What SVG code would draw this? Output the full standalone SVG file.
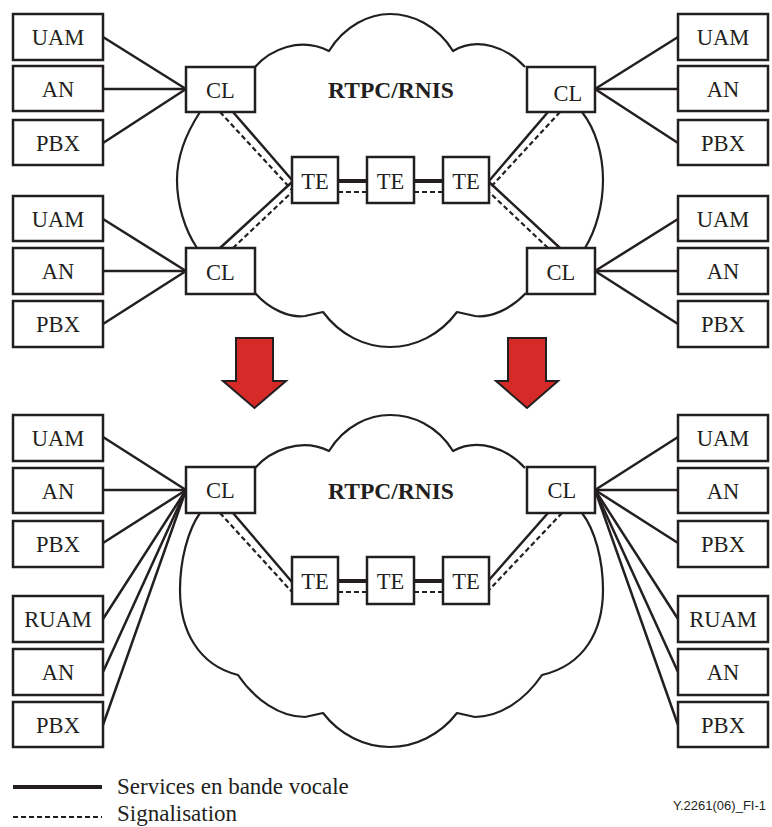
<svg xmlns="http://www.w3.org/2000/svg" width="772" height="827" viewBox="0 0 772 827">
<style>
.box{fill:#fff;stroke:#231f20;stroke-width:2.5}
.cloud{fill:none;stroke:#231f20;stroke-width:2.2;stroke-linejoin:round}
.ln{stroke:#231f20;stroke-width:2.5;fill:none}
.th{stroke:#231f20;stroke-width:4;fill:none}
.ds{stroke:#231f20;stroke-width:2.2;stroke-dasharray:5 3;fill:none}
.t{font-size:22.5px;fill:#231f20;text-anchor:middle}
.b{font-size:23.5px;font-weight:bold;fill:#231f20;text-anchor:middle}
.lg{font-size:23px;fill:#231f20}
.arrow{fill:#d52a27;stroke:#231f20;stroke-width:2}
</style>
<rect width="772" height="827" fill="#fff"/>

<g id="clouds">
<path class="cloud" d="M255,67 C270,50 300,36 329,51 C345,25 370,14 390,14 C412,14 437,25 453,51 C478,36 508,48 525,67"/>
<path class="cloud" d="M582,112 C596,130 603,155 603,180 C603,205 596,230 585,248"/>
<path class="cloud" d="M526,293 C510,310 490,318 475,316 L457,312 C440,335 415,347 390,347 C365,347 340,335 323,312 L305,316 C290,318 270,310 255,293"/>
<path class="cloud" d="M200,112 C185,135 177,158 177,180 C177,205 185,230 197,248"/>

<path class="cloud" d="M255,468 C270,451 300,437 329,451 C345,425 370,415 390,415 C412,415 437,425 453,451 C478,437 508,449 525,468"/>
<path class="cloud" d="M582,513 C595,530 603,560 603,590 C603,630 585,665 542,675 C525,700 500,717 475,717 L457,713 C440,735 415,747 390,747 C365,747 340,735 323,713 L305,717 C280,717 255,700 238,675 C198,665 180,630 180,590 C180,560 188,530 200,513"/>
</g>

<g id="arrows">
<polygon class="arrow" points="236,338 273,338 273,381 286,381 254.5,408 223,381 236,381"/>
<polygon class="arrow" points="508,338 546,338 546,381 558,381 527,408 496,381 508,381"/>
</g>

<g id="connectors">
<line class="ln" x1="103" y1="37" x2="186" y2="89"/>
<line class="ln" x1="103" y1="89" x2="186" y2="89"/>
<line class="ln" x1="103" y1="143" x2="186" y2="89"/>
<line class="ln" x1="103" y1="219" x2="186" y2="271"/>
<line class="ln" x1="103" y1="271" x2="186" y2="271"/>
<line class="ln" x1="103" y1="324" x2="186" y2="271"/>
<line class="ln" x1="678" y1="37" x2="595" y2="89"/>
<line class="ln" x1="678" y1="89" x2="595" y2="89"/>
<line class="ln" x1="678" y1="143" x2="595" y2="89"/>
<line class="ln" x1="678" y1="219" x2="595" y2="271"/>
<line class="ln" x1="678" y1="271" x2="595" y2="271"/>
<line class="ln" x1="678" y1="324" x2="595" y2="271"/>
<line class="ln" x1="233" y1="112" x2="292" y2="180"/>
<line class="ds" x1="220" y1="112" x2="292" y2="190"/>
<line class="ln" x1="220" y1="248" x2="292" y2="182"/>
<line class="ds" x1="233" y1="248" x2="292" y2="192"/>
<line class="ln" x1="548" y1="112" x2="489" y2="181"/>
<line class="ds" x1="560" y1="112" x2="489" y2="189"/>
<line class="ln" x1="560" y1="248" x2="489" y2="182"/>
<line class="ds" x1="548" y1="248" x2="489" y2="192"/>
<line class="th" x1="338" y1="181" x2="367" y2="181"/>
<line class="th" x1="414" y1="181" x2="443" y2="181"/>
<line class="ds" x1="338" y1="192" x2="367" y2="192"/>
<line class="ds" x1="414" y1="192" x2="443" y2="192"/>

<line class="ln" x1="103" y1="437" x2="186" y2="490"/>
<line class="ln" x1="103" y1="490" x2="186" y2="490"/>
<line class="ln" x1="103" y1="543" x2="186" y2="490"/>
<line class="ln" x1="103" y1="619" x2="186" y2="490"/>
<line class="ln" x1="103" y1="672" x2="186" y2="490"/>
<line class="ln" x1="103" y1="725" x2="186" y2="490"/>
<line class="ln" x1="678" y1="437" x2="595" y2="490"/>
<line class="ln" x1="678" y1="490" x2="595" y2="490"/>
<line class="ln" x1="678" y1="543" x2="595" y2="490"/>
<line class="ln" x1="678" y1="619" x2="595" y2="490"/>
<line class="ln" x1="678" y1="672" x2="595" y2="490"/>
<line class="ln" x1="678" y1="725" x2="595" y2="490"/>
<line class="ln" x1="233" y1="513" x2="292" y2="582"/>
<line class="ds" x1="220" y1="513" x2="292" y2="592"/>
<line class="ln" x1="548" y1="513" x2="489" y2="580"/>
<line class="ds" x1="562" y1="513" x2="489" y2="590"/>
<line class="th" x1="338" y1="581" x2="367" y2="581"/>
<line class="th" x1="414" y1="581" x2="443" y2="581"/>
<line class="ds" x1="338" y1="592" x2="367" y2="592"/>
<line class="ds" x1="414" y1="592" x2="443" y2="592"/>
</g>

<g font-family="Liberation Serif, Times New Roman, serif">
<g id="t-uam1"><rect class="box" x="13" y="14" width="90" height="46"/><text class="t" x="58" y="45">UAM</text></g>
<g id="t-an1"><rect class="box" x="13" y="66" width="90" height="45"/><text class="t" x="58" y="97">AN</text></g>
<g id="t-pbx1"><rect class="box" x="13" y="120" width="90" height="45"/><text class="t" x="58" y="151">PBX</text></g>
<g id="t-uam2"><rect class="box" x="13" y="196" width="90" height="45"/><text class="t" x="58" y="227">UAM</text></g>
<g id="t-an2"><rect class="box" x="13" y="248" width="90" height="46"/><text class="t" x="58" y="279">AN</text></g>
<g id="t-pbx2"><rect class="box" x="13" y="301" width="90" height="46"/><text class="t" x="58" y="332">PBX</text></g>

<g id="t-uam3"><rect class="box" x="678" y="14" width="90" height="46"/><text class="t" x="723" y="45">UAM</text></g>
<g id="t-an3"><rect class="box" x="678" y="66" width="90" height="45"/><text class="t" x="723" y="97">AN</text></g>
<g id="t-pbx3"><rect class="box" x="678" y="120" width="90" height="45"/><text class="t" x="723" y="151">PBX</text></g>
<g id="t-uam4"><rect class="box" x="678" y="196" width="90" height="45"/><text class="t" x="723" y="227">UAM</text></g>
<g id="t-an4"><rect class="box" x="678" y="248" width="90" height="46"/><text class="t" x="723" y="279">AN</text></g>
<g id="t-pbx4"><rect class="box" x="678" y="301" width="90" height="46"/><text class="t" x="723" y="332">PBX</text></g>

<g id="t-cl1"><rect class="box" x="186" y="67" width="69" height="45"/><text class="t" x="220.5" y="98">CL</text></g>
<g id="t-cl2"><rect class="box" x="186" y="248" width="69" height="46"/><text class="t" x="220.5" y="280">CL</text></g>
<g id="t-cl3"><rect class="box" x="527" y="67" width="68" height="45"/><text class="t" x="568" y="101">CL</text></g>
<g id="t-cl4"><rect class="box" x="527" y="248" width="68" height="46"/><text class="t" x="561" y="280">CL</text></g>

<g id="t-te1"><rect class="box" x="292" y="157" width="46" height="46"/><text class="t" x="315" y="189">TE</text></g>
<g id="t-te2"><rect class="box" x="367" y="157" width="47" height="46"/><text class="t" x="390.5" y="189">TE</text></g>
<g id="t-te3"><rect class="box" x="443" y="157" width="46" height="46"/><text class="t" x="466" y="189">TE</text></g>
<text class="b" x="391" y="98">RTPC/RNIS</text>

<g id="b-uam1"><rect class="box" x="13" y="415" width="90" height="46"/><text class="t" x="58" y="446">UAM</text></g>
<g id="b-an1"><rect class="box" x="13" y="468" width="90" height="45"/><text class="t" x="58" y="499">AN</text></g>
<g id="b-pbx1"><rect class="box" x="13" y="521" width="90" height="46"/><text class="t" x="58" y="552">PBX</text></g>
<g id="b-ruam1"><rect class="box" x="13" y="596" width="90" height="46"/><text class="t" x="58" y="627">RUAM</text></g>
<g id="b-an2"><rect class="box" x="13" y="649" width="90" height="46"/><text class="t" x="58" y="680">AN</text></g>
<g id="b-pbx2"><rect class="box" x="13" y="702" width="90" height="45"/><text class="t" x="58" y="733">PBX</text></g>

<g id="b-uam3"><rect class="box" x="678" y="415" width="90" height="46"/><text class="t" x="723" y="446">UAM</text></g>
<g id="b-an3"><rect class="box" x="678" y="468" width="90" height="45"/><text class="t" x="723" y="499">AN</text></g>
<g id="b-pbx3"><rect class="box" x="678" y="521" width="90" height="46"/><text class="t" x="723" y="552">PBX</text></g>
<g id="b-ruam3"><rect class="box" x="678" y="596" width="90" height="46"/><text class="t" x="723" y="627">RUAM</text></g>
<g id="b-an4"><rect class="box" x="678" y="649" width="90" height="46"/><text class="t" x="723" y="680">AN</text></g>
<g id="b-pbx4"><rect class="box" x="678" y="702" width="90" height="45"/><text class="t" x="723" y="733">PBX</text></g>

<g id="b-cl1"><rect class="box" x="186" y="467" width="69" height="46"/><text class="t" x="220.5" y="498">CL</text></g>
<g id="b-cl3"><rect class="box" x="527" y="467" width="68" height="46"/><text class="t" x="562" y="498">CL</text></g>

<g id="b-te1"><rect class="box" x="292" y="557" width="46" height="47"/><text class="t" x="315" y="589">TE</text></g>
<g id="b-te2"><rect class="box" x="367" y="557" width="47" height="47"/><text class="t" x="390.5" y="589">TE</text></g>
<g id="b-te3"><rect class="box" x="443" y="557" width="46" height="47"/><text class="t" x="466" y="589">TE</text></g>
<text class="b" x="391" y="499">RTPC/RNIS</text>

<g id="legend">
<line class="th" x1="13" y1="787" x2="102" y2="787"/>
<text class="lg" x="117" y="794">Services en bande vocale</text>
<line class="ds" x1="13" y1="817" x2="102" y2="817" stroke-dasharray="4.5 2.5"/>
<text class="lg" x="117" y="821">Signalisation</text>
</g>
</g>
<text x="766" y="810" text-anchor="end" font-family="Liberation Sans, Arial, sans-serif" font-size="13" fill="#231f20">Y.2261(06)_FI-1</text>
</svg>
